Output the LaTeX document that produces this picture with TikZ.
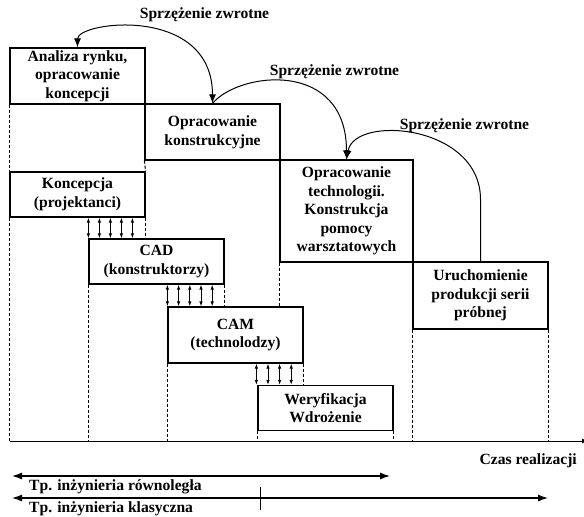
\documentclass[tikz,border=0pt]{standalone}
\usepackage{fontspec}
\setmainfont{Liberation Serif}
\usetikzlibrary{arrows.meta,calc}
\begin{document}
\begin{tikzpicture}[x=1pt,y=-1pt,
  txt/.style={font=\fontsize{15.6}{18.6}\selectfont\bfseries, align=center, inner sep=0pt},
  stage/.style={txt, draw, line width=1.2pt, minimum width=135pt},
  guide/.style={line width=1.1pt, dash pattern=on 3pt off 2pt},
  link/.style={line width=0.9pt, {Latex[length=5pt,width=3.5pt]}-{Latex[length=5pt,width=3.5pt]}},
  feedback/.style={line width=1pt, -{Latex[length=9pt,width=7pt]}},
  feedbackboth/.style={line width=1pt, {Latex[length=9pt,width=7pt]}-{Latex[length=9pt,width=7pt]}},
  span/.style={line width=1.2pt, {Latex[length=10pt,width=7pt]}-{Latex[length=10pt,width=7pt]}}
]
\useasboundingbox (0,0) rectangle (584,517);

% classical sequence of stages
\node[stage, minimum height=56pt] (b1) at (77.5,76) {Analiza rynku,\\opracowanie\\koncepcji};
\node[stage, minimum height=56pt] (b2) at (212.5,132) {Opracowanie\\konstrukcyjne};
\node[stage, minimum width=133pt, minimum height=102pt] (b3) at (346.5,211) {Opracowanie\\technologii.\\Konstrukcja\\pomocy\\warsztatowych};
\node[stage, minimum height=67pt] (b4) at (480.5,295.5) {Uruchomienie\\produkcji serii\\próbnej};

% concurrent sequence of stages
\node[stage, minimum height=45pt] (k) at (77.5,194.5) {Koncepcja\\(projektanci)};
\node[stage, minimum height=45pt] (cad) at (156.5,261.5) {CAD\\(konstruktorzy)};
\node[stage, minimum height=56pt] (cam) at (235.5,335) {CAM\\(technolodzy)};
\node[stage, minimum height=45pt] (wer) at (325.5,408) {Weryfikacja\\Wdrożenie};

% time axis
\coordinate (t0) at (10,441);
\coordinate (t1) at (588,441);
\draw[line width=1pt, -{Latex[length=6pt,width=5pt]}] (t0) -- (t1);
\node[txt, anchor=east] (czas) at (577,461) {Czas realizacji};

% dashed guide lines
\draw[guide] (b1.south west) -- (k.north west);
\draw[guide] (k.south west) -- (k.south west |- t0);
\draw[guide] (b2.south west) -- (k.north east);
\draw[guide] (k.south east) -- (k.south east |- cad.north);
\draw[guide] (b3.south west) -- (b3.south west |- cam.north);
\draw[guide] (cad.south west) -- (cad.south west |- t0);
\draw[guide] (cad.south east) -- (cad.south east |- cam.north);
\draw[guide] (cam.south west) -- (cam.south west |- t0);
\draw[guide] (cam.south east) -- (cam.south east |- wer.north);
\draw[guide] (wer.south west) -- (wer.south west |- t0);
\draw[guide] (wer.south east) -- (wer.south east |- t0);
\draw[guide] (b4.south west) -- (b4.south west |- t0);
\draw[guide] (b4.south east) -- (b4.south east |- t0);

% information exchange between concurrent stages
\foreach \i in {0,...,4}
  \draw[link] ($(cad.north west |- k.south)+(\i*11,0)$) -- ($(cad.north west)+(\i*11,0)$);
\foreach \i in {0,...,4}
  \draw[link] ($(cam.north west |- cad.south)+(\i*11.2,0)$) -- ($(cam.north west)+(\i*11.2,0)$);
\foreach \i in {0,...,3}
  \draw[link] ($(wer.north west |- cam.south)+(\i*11.6-1,0)$) -- ($(wer.north west)+(\i*11.6-1,0)$);

% feedback loops
\draw[feedbackboth] (b2.north) .. controls +(0,-99) and +(0,-26) .. (b1.north);
\draw[feedback] (b2.north) .. controls +(27,-32) and +(0,-100) .. (b3.north);
\draw[feedback] (b4.north) -- +(0,-62) .. controls +(0,-75) and +(8,-45) .. (b3.north);
\node[txt] (fb1) at (204.5,15) {Sprzężenie zwrotne};
\node[txt] (fb2) at (334.5,72) {Sprzężenie zwrotne};
\node[txt] (fb3) at (464.5,126) {Sprzężenie zwrotne};

% lead times
\coordinate (r0) at (12,476);
\coordinate (r1) at (390,476);
\draw[span] (r0) -- (r1);
\node[txt, anchor=west] (rtxt) at (29,487) {Tp. inżynieria równoległa};
\coordinate (c0) at (12,498);
\coordinate (c1) at (548,498);
\draw[span] (c0) -- (c1);
\node[txt, anchor=west] (ctxt) at (29,509) {Tp. inżynieria klasyczna};
\coordinate (m0) at (260,487);
\coordinate (m1) at (260,510);
\draw[line width=1pt] (m0) -- (m1);
\end{tikzpicture}
\end{document}
